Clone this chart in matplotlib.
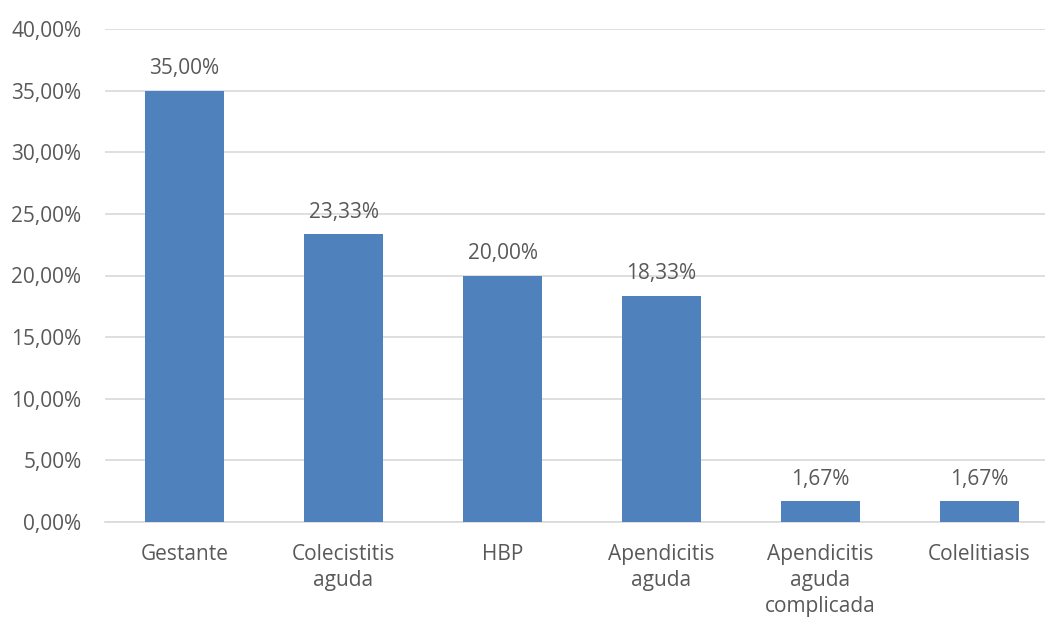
import matplotlib
matplotlib.use("Agg")
import matplotlib.pyplot as plt
from matplotlib.ticker import FuncFormatter

categories = ["Gestante", "Colecistitis\naguda", "HBP", "Apendicitis\naguda",
              "Apendicitis\naguda\ncomplicada", "Colelitiasis"]
values = [35.00, 23.33, 20.00, 18.33, 1.67, 1.67]
yticks = [0, 5, 10, 15, 20, 25, 30, 35, 40]

plt.rcParams['font.family'] = ['Open Sans', 'DejaVu Sans']
txt = '#595959'
fs = 15

fig = plt.figure(figsize=(10.45, 6.24), dpi=100)
W, H = 1045, 624
ax = fig.add_axes([105 / W, 1 - 522 / H, 940 / W, (522 - 29) / H])

x = list(range(len(categories)))
ax.bar(x, values, width=0.503, color='#4F81BD', zorder=3)
for xi, v in zip(x, values):
    ax.text(xi, v + 0.95, f"{v:.2f}".replace('.', ',') + '%', ha='center', va='bottom',
            fontsize=fs, color=txt)

ax.set_xlim(-0.5, -0.5 + 940 / 159)
ax.set_ylim(0, 40)
ax.set_yticks(yticks)
ax.yaxis.set_major_formatter(FuncFormatter(lambda v, p: f"{v:.2f}".replace('.', ',') + '%'))
ax.set_xticks(x)
ax.set_xticklabels(categories, fontsize=fs, color=txt, linespacing=1.32)
ax.tick_params(axis='y', labelsize=fs, colors=txt, length=0, pad=17)
ax.tick_params(axis='x', length=0, pad=16)
ax.grid(axis='y', color='#D9D9D9', linewidth=1.2, zorder=0)
for s in ['top', 'right', 'left']:
    ax.spines[s].set_visible(False)
ax.spines['bottom'].set_color('#D9D9D9')
ax.spines['bottom'].set_linewidth(1.2)

fig.savefig('out.png', dpi=100)
